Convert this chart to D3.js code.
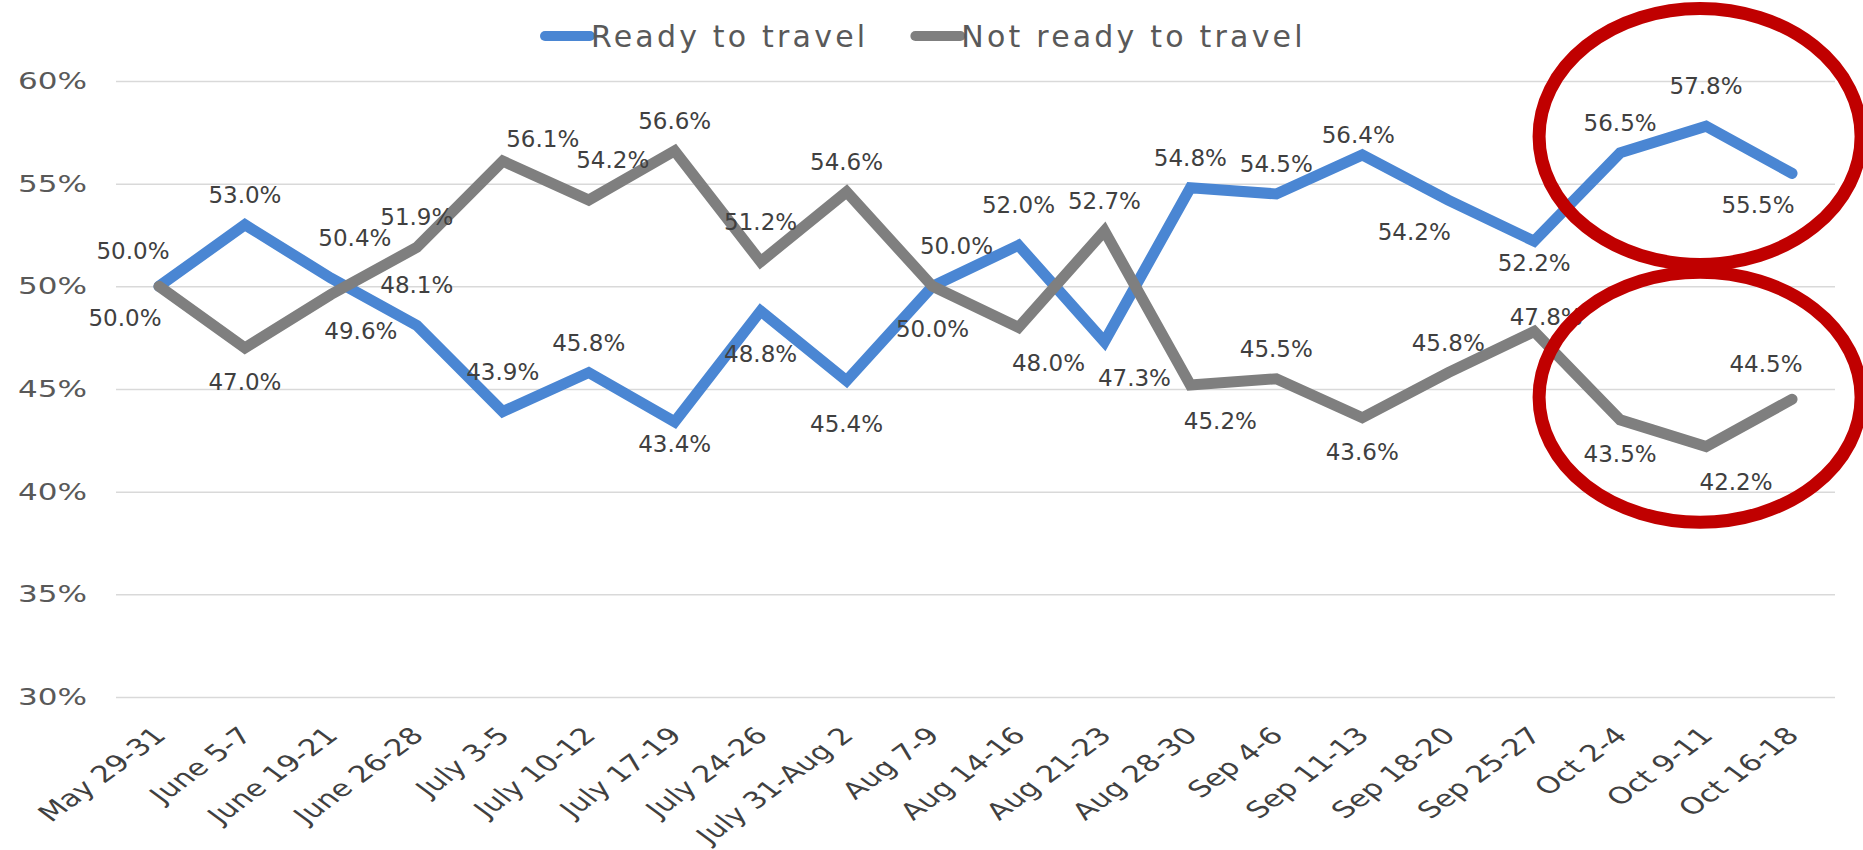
<!DOCTYPE html>
<html>
<head>
<meta charset="utf-8">
<script src="https://cdn.jsdelivr.net/npm/d3@7"></script>
<style>
  html, body { margin: 0; padding: 0; background: #fff; }
  svg text { font-family: "DejaVu Sans", sans-serif; }
</style>
</head>
<body>
<div id="chart"></div>
<script>
// weekly survey waves
var weeks = ["May 29-31", "June 5-7", "June 19-21", "June 26-28", "July 3-5", "July 10-12",
             "July 17-19", "July 24-26", "July 31-Aug 2", "Aug 7-9", "Aug 14-16", "Aug 21-23",
             "Aug 28-30", "Sep 4-6", "Sep 11-13", "Sep 18-20", "Sep 25-27", "Oct 2-4",
             "Oct 9-11", "Oct 16-18"];
var readyToTravel = [50.0, 53.0, 50.4, 48.1, 43.9, 45.8, 43.4, 48.8, 45.4, 50.0,
                     52.0, 47.3, 54.8, 54.5, 56.4, 54.2, 52.2, 56.5, 57.8, 55.5];
var notReadyToTravel = [50.0, 47.0, 49.6, 51.9, 56.1, 54.2, 56.6, 51.2, 54.6, 50.0,
                        48.0, 52.7, 45.2, 45.5, 43.6, 45.8, 47.8, 43.5, 42.2, 44.5];
var yTicks = [30, 35, 40, 45, 50, 55, 60];
var seriesNames = ["Ready to travel", "Not ready to travel"];

// which side of the point each data label sits on
// a=above, b=below, l/r=left/right, h=further away, n=nearer
var readyLabelPos = ["al", "a", "ar", "ah", "ah", "a", "bn", "bh", "bh", "bh",
                     "ah", "br", "a", "a", "n", "bl", "bn", "a", "ah", "bl"];
var notReadyLabelPos = ["bl", "b", "br", "a", "arn", "ar", "a", "ah", "a", "ar",
                        "br", "a", "br", "a", "b", "a", "an", "b", "br", "al"];

// red rings round the last weeks
var ringWeek = "Oct 9-11";
var ringCentres = [57.3, 44.6];

(function () {
       'use strict';

       var W = 1863, H = 850;
       var margin = { left: 116, right: 1835, top: 81, bottom: 697 };
       var blue = "#4A86D3", grey = "#7F7F7F";
       var stretch = 1.35;   // the source picture is widened, so is its text

       var offsets = {
              a: [0, -30], ah: [0, -40], n: [-4, -20], an: [12, -15],
              b: [0, 34], bh: [0, 43], bn: [0, 22],
              al: [-26, -35], ar: [24, -40], arn: [40, -22],
              bl: [-34, 32], br: [30, 36]
       };

       var svg = d3.select("#chart")
              .append("svg")
              .attr("width", W)
              .attr("height", H);

       var x = d3.scalePoint()
              .domain(weeks)
              .range([margin.left, margin.right])
              .padding(0.5);

       var y = d3.scaleLinear()
              .domain([30, 60])
              .range([margin.bottom, margin.top]);

       // gridlines + y labels
       var yAxis = svg.append("g")
              .attr("transform", "translate(" + margin.left + ",0)")
              .call(d3.axisLeft(y)
                     .tickValues(yTicks)
                     .tickSize(-(margin.right - margin.left))
                     .tickFormat(d => d + "%"));
       yAxis.select(".domain").remove();
       yAxis.selectAll(".tick line")
              .attr("stroke", "#D9D9D9")
              .attr("stroke-width", 1.5);
       yAxis.selectAll(".tick text")
              .attr("x", -29 / stretch)
              .attr("transform", "scale(" + stretch + ",1)")
              .attr("fill", "#595959")
              .style("font-size", "23px");

       // x labels, slanted
       var xAxis = svg.append("g")
              .attr("transform", "translate(0," + margin.bottom + ")")
              .call(d3.axisBottom(x).tickSize(0));
       xAxis.select(".domain").remove();
       xAxis.selectAll(".tick text")
              .attr("x", 0)
              .attr("y", 0)
              .attr("dy", 0)
              .attr("text-anchor", "end")
              .attr("transform", "translate(8,40) scale(" + stretch + ",1) rotate(-45)")
              .attr("fill", "#404040")
              .style("font-size", "23px");

       var line = d3.line()
              .x((d, i) => x(weeks[i]))
              .y(d => y(d));

       var series = [
              { name: seriesNames[0], values: readyToTravel, pos: readyLabelPos, color: blue },
              { name: seriesNames[1], values: notReadyToTravel, pos: notReadyLabelPos, color: grey }
       ];

       series.forEach(s => {
              svg.append("path")
                     .datum(s.values)
                     .attr("d", line)
                     .attr("fill", "none")
                     .attr("stroke", s.color)
                     .attr("stroke-width", 11)
                     .attr("stroke-linecap", "round")
                     .attr("stroke-linejoin", "miter");
       });

       series.forEach(s => {
              svg.append("g")
                     .selectAll("text")
                     .data(s.values)
                     .enter()
                     .append("text")
                     .attr("x", (d, i) => x(weeks[i]) + offsets[s.pos[i]][0])
                     .attr("y", (d, i) => y(d) + offsets[s.pos[i]][1])
                     .attr("text-anchor", "middle")
                     .attr("dominant-baseline", "central")
                     .attr("fill", "#404040")
                     .style("font-size", "23px")
                     .text(d => d.toFixed(1) + "%");
       });

       // legend
       var legend = svg.append("g").attr("transform", "translate(545,36)");
       var lx = 0;
       series.forEach(s => {
              legend.append("line")
                     .attr("x1", lx).attr("x2", lx + 45)
                     .attr("y1", 0).attr("y2", 0)
                     .attr("stroke", s.color)
                     .attr("stroke-width", 10)
                     .attr("stroke-linecap", "round");
              var t = legend.append("text")
                     .attr("x", lx + 46)
                     .attr("y", 0)
                     .attr("dominant-baseline", "central")
                     .attr("fill", "#595959")
                     .style("font-size", "30px")
                     .style("letter-spacing", "3.2px")
                     .text(s.name);
              lx += 46 + t.node().getComputedTextLength() + 47;
       });

       // highlight rings
       svg.append("g")
              .selectAll("ellipse")
              .data(ringCentres)
              .enter()
              .append("ellipse")
              .attr("cx", x(ringWeek) - 6)
              .attr("cy", d => y(d))
              .attr("rx", 161)
              .attr("ry", (d, i) => i == 0 ? 128 : 125)
              .attr("fill", "none")
              .attr("stroke", "#C00000")
              .attr("stroke-width", 13);
})();
</script>
</body>
</html>
